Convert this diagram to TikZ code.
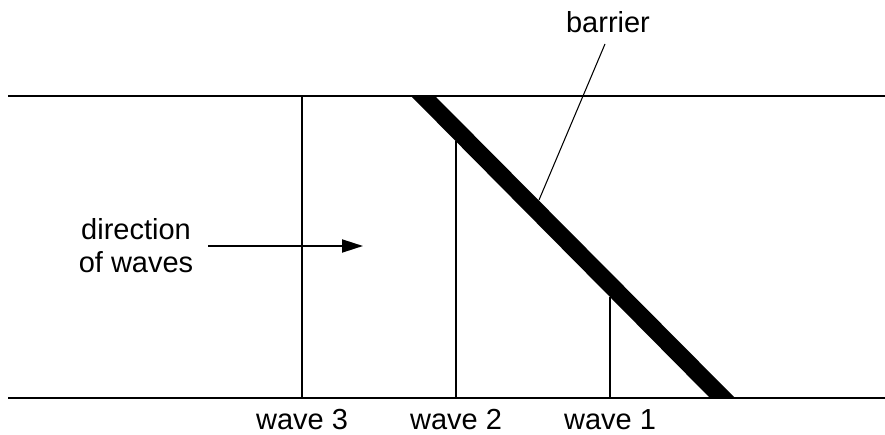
\documentclass[tikz,border=0pt]{standalone}
\usepackage{fontspec}
\setmainfont{Liberation Sans}
\usetikzlibrary{arrows.meta}
\begin{document}
\begin{tikzpicture}[
            x=0.02cm, y=-0.02cm,
            bank/.style={draw, line width=1.1pt},
            front/.style={draw, line width=1.1pt},
            lbl/.style={font=\fontsize{16.5}{18.7}\selectfont, inner sep=0pt},
            lead/.style={draw, line width=0.6pt}
          ]
          \useasboundingbox (0,0) rectangle (885,435);
          % channel sides
          \coordinate (tl) at (8,96);
          \coordinate (tr) at (885,96);
          \coordinate (bl) at (8,398);
          \coordinate (br) at (885,398);
          \draw[bank] (tl) -- (tr);
          \draw[bank] (bl) -- (br);
          % barrier
          \fill (411,96) -- (435,96) -- (735,398) -- (710,398) -- cycle;
          % wavefronts
          \coordinate (w3t) at (302,96);
          \coordinate (w2t) at (456,141);
          \coordinate (w1t) at (610,297);
          \foreach \w/\x in {3/302,2/456,1/610} {
            \coordinate (w\w b) at (\x,398);
            \draw[front] (w\w t) -- (w\w b);
            \node[lbl, anchor=base] (lw\w) at (\x,429) {wave \w};
          }
          % direction arrow
          \node[lbl, align=center] (dir) at (136,246) {direction\\of waves};
          \coordinate (arrs) at (208,246);
          \coordinate (arre) at (363,246);
          \draw[line width=1.1pt, -{Triangle[length=0.42cm, width=0.26cm]}] (arrs) -- (arre);
          % barrier label
          \node[lbl, anchor=base] (bar) at (608,33) {barrier};
          \coordinate (barpt) at (539,200);
          \draw[lead] (605,44) -- (barpt);
        \end{tikzpicture}
\end{document}
